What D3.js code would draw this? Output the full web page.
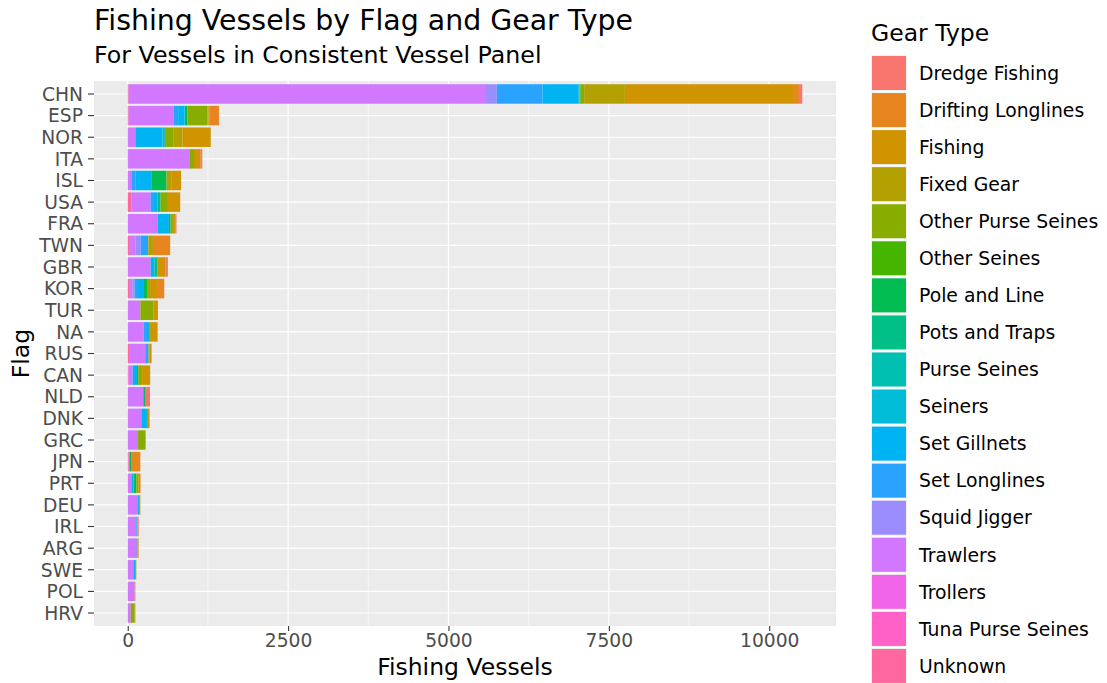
<!DOCTYPE html>
<html><head><meta charset="utf-8">
<script src="https://cdn.jsdelivr.net/npm/d3@7"></script>
<style>body{margin:0;background:#fff;} text{font-family:"DejaVu Sans",sans-serif;}</style>
</head><body><svg id="c" width="1107" height="683"></svg>
<script>
const flags = ["CHN","ESP","NOR","ITA","ISL","USA","FRA","TWN","GBR","KOR","TUR","NA","RUS","CAN","NLD","DNK","GRC","JPN","PRT","DEU","IRL","ARG","SWE","POL","HRV"];
const gearTypes = ["Dredge Fishing","Drifting Longlines","Fishing","Fixed Gear","Other Purse Seines","Other Seines","Pole and Line","Pots and Traps","Purse Seines","Seiners","Set Gillnets","Set Longlines","Squid Jigger","Trawlers","Trollers","Tuna Purse Seines","Unknown"];
const xTicks = [0, 2500, 5000, 7500, 10000];
// values per gear type, in the order of flags
const dredgeFishing     = [52,5,0,26,0,0,20,0,41,0,0,0,0,0,78,0,0,0,0,0,20,0,0,0,0];
const driftingLonglines = [78,150,0,0,0,0,0,269,0,98,0,0,0,0,0,0,0,135,5,0,0,0,0,0,0];
const fishing           = [2635,10,440,104,155,191,36,0,119,109,67,104,37,129,0,41,10,0,31,20,0,20,20,10,10];
const fixedGear         = [635,20,145,0,72,0,0,72,0,62,0,31,10,0,0,0,0,0,0,0,0,0,0,0,0];
const otherPurseSeines  = [52,312,130,68,0,114,36,0,0,0,207,0,0,57,0,0,109,0,31,0,0,0,0,0,62];
const otherSeines       = [10,0,0,0,0,0,0,0,0,0,0,0,0,0,0,0,0,0,0,0,0,0,0,0,0];
const poleAndLine       = [5,36,0,0,238,0,26,0,0,47,0,0,0,20,26,0,0,36,36,0,6,0,0,0,0];
const potsAndTraps      = [5,0,0,0,0,52,0,0,47,0,0,0,0,0,0,0,0,0,0,0,0,0,0,0,0];
const purseSeines       = [5,0,0,0,0,0,0,0,0,0,0,0,0,0,0,0,0,0,0,0,0,0,0,0,0];
const seiners           = [15,8,36,0,0,0,0,0,0,0,0,0,0,0,0,0,0,0,11,0,0,0,0,0,0];
const setGillnets       = [556,99,424,8,248,52,176,0,62,93,0,31,0,67,0,88,0,0,30,16,10,0,26,0,0];
const setLonglines      = [714,68,0,0,62,52,0,119,0,52,0,52,52,0,0,0,0,0,0,0,0,0,0,0,0];
const squidJigger       = [183,0,0,0,0,0,0,78,0,36,0,0,0,0,0,0,0,0,0,0,0,36,0,0,0];
const trawlers          = [5555,703,114,952,57,295,466,104,357,52,197,248,253,57,243,212,161,0,57,161,135,114,88,109,47];
const trollers          = [0,0,0,0,0,0,0,0,0,0,0,0,0,10,0,0,0,0,0,0,0,0,0,0,0];
const tunaPurseSeines   = [0,0,0,0,0,0,0,0,0,0,0,0,0,10,0,0,0,16,0,0,0,0,0,0,0];
const unknown           = [15,15,5,5,0,62,0,20,0,20,0,0,20,0,0,0,0,10,0,0,0,0,0,0,0];
const seriesValues = [dredgeFishing,driftingLonglines,fishing,fixedGear,otherPurseSeines,otherSeines,poleAndLine,potsAndTraps,purseSeines,seiners,setGillnets,setLonglines,squidJigger,trawlers,trollers,tunaPurseSeines,unknown];

// ggplot2 hue palette (polarLUV, l=65, c=100)
function hueColor(h){
  const l=65,c=100,hr=h*Math.PI/180,U=c*Math.cos(hr),V=c*Math.sin(hr);
  const Xn=95.047,Yn=100,Zn=108.883;
  const Y=Yn*Math.pow((l+16)/116,3);
  const t=Xn+15*Yn+3*Zn,un=4*Xn/t,vn=9*Yn/t;
  const u=U/(13*l)+un,v=V/(13*l)+vn;
  const X=9*Y*u/(4*v),Z=-X/3-5*Y+3*Y/v;
  const x=X/100,y=Y/100,z=Z/100;
  const lin=[3.240479*x-1.537150*y-0.498535*z,-0.969256*x+1.875992*y+0.041556*z,0.055648*x-0.204043*y+1.057311*z];
  const g=lin.map(q=>{q=q<=0.0031308?12.92*q:1.055*Math.pow(q,1/2.4)-0.055;return Math.round(Math.max(0,Math.min(1,q))*255);});
  return d3.rgb(g[0],g[1],g[2]).formatHex();
}
const colors = gearTypes.map((g,i)=>hueColor(15+i*360/gearTypes.length));
const color = d3.scaleOrdinal(gearTypes, colors);

const rows = flags.map((f,i)=>{const r={flag:f}; gearTypes.forEach((g,j)=>r[g]=seriesValues[j][i]); return r;});
// stack: first level at the far right (ggplot default)
const stack = d3.stack().keys(gearTypes.slice().reverse())(rows);
const maxTotal = d3.max(rows, r=>d3.sum(gearTypes, g=>r[g]));

const svg = d3.select("#c");
const P = {l:94, r:836, t:81, b:626};
const x = d3.scaleLinear().domain([-0.05*maxTotal, 1.05*maxTotal]).range([P.l, P.r]);
const bandStep = (P.b-P.t)/(flags.length-1+1.2);
const yC = f => P.t + bandStep*(0.6 + flags.indexOf(f));

svg.append("rect").attr("x",P.l).attr("y",P.t).attr("width",P.r-P.l).attr("height",P.b-P.t).attr("fill","#EBEBEB");
// minor grid
const minor = xTicks.slice(0,-1).map((t,i)=>(t+xTicks[i+1])/2).concat([xTicks[xTicks.length-1]+1250]).filter(v=>x(v)<P.r);
svg.append("g").selectAll("line").data(minor).join("line")
  .attr("x1",d=>x(d)).attr("x2",d=>x(d)).attr("y1",P.t).attr("y2",P.b).attr("stroke","#fff").attr("stroke-width",0.6);
svg.append("g").selectAll("line").data(xTicks).join("line")
  .attr("x1",d=>x(d)).attr("x2",d=>x(d)).attr("y1",P.t).attr("y2",P.b).attr("stroke","#fff").attr("stroke-width",1.2);
svg.append("g").selectAll("line").data(flags).join("line")
  .attr("x1",P.l).attr("x2",P.r).attr("y1",d=>yC(d)).attr("y2",d=>yC(d)).attr("stroke","#fff").attr("stroke-width",1.2);

const bh = bandStep*0.9;
svg.append("g").selectAll("g").data(stack).join("g").attr("fill",d=>color(d.key))
  .selectAll("rect").data(d=>d.filter(s=>s[1]>s[0])).join("rect")
  .attr("x",d=>x(d[0])).attr("width",d=>x(d[1])-x(d[0]))
  .attr("y",d=>yC(d.data.flag)-bh/2).attr("height",bh);

// axes
const xAxis = svg.append("g").attr("transform",`translate(0,${P.b})`)
  .call(d3.axisBottom(x).tickValues(xTicks).tickSize(5).tickPadding(3).tickFormat(d3.format("d")));
xAxis.select(".domain").remove();
xAxis.selectAll("line").attr("stroke","#333").attr("stroke-width",1.1);
xAxis.selectAll("text").attr("fill","#4D4D4D").style("font-size","18.7px");
const yAxisG = svg.append("g");
flags.forEach(f=>{
  yAxisG.append("line").attr("x1",P.l-6).attr("x2",P.l).attr("y1",yC(f)).attr("y2",yC(f)).attr("stroke","#333").attr("stroke-width",1.1);
  yAxisG.append("text").attr("x",P.l-11).attr("y",yC(f)).attr("dy","0.36em").attr("text-anchor","end")
    .attr("fill","#4D4D4D").style("font-size","18.7px").text(f);
});
svg.append("text").attr("x",(P.l+P.r)/2).attr("y",675).attr("text-anchor","middle").style("font-size","23.5px").attr("fill","#000").text("Fishing Vessels");
svg.append("text").attr("transform",`translate(29,${(P.t+P.b)/2}) rotate(-90)`).attr("text-anchor","middle").style("font-size","23.5px").text("Flag");
svg.append("text").attr("x",94).attr("y",30).style("font-size","28.4px").text("Fishing Vessels by Flag and Gear Type");
svg.append("text").attr("x",94).attr("y",63).style("font-size","23.7px").text("For Vessels in Consistent Vessel Panel");

// legend
const lg = svg.append("g");
lg.append("text").attr("x",871).attr("y",41).style("font-size","23.5px").text("Gear Type");
gearTypes.forEach((g,i)=>{
  const yy = 56 + i*37.06;
  lg.append("rect").attr("x",871).attr("y",yy-1).attr("width",36).attr("height",36).attr("fill","#F2F2F2");
  lg.append("rect").attr("x",872).attr("y",yy).attr("width",34).attr("height",34).attr("fill",color(g));
  lg.append("text").attr("x",919).attr("y",yy+17).attr("dy","0.36em").style("font-size","18.8px").text(g);
});
</script></body></html>
